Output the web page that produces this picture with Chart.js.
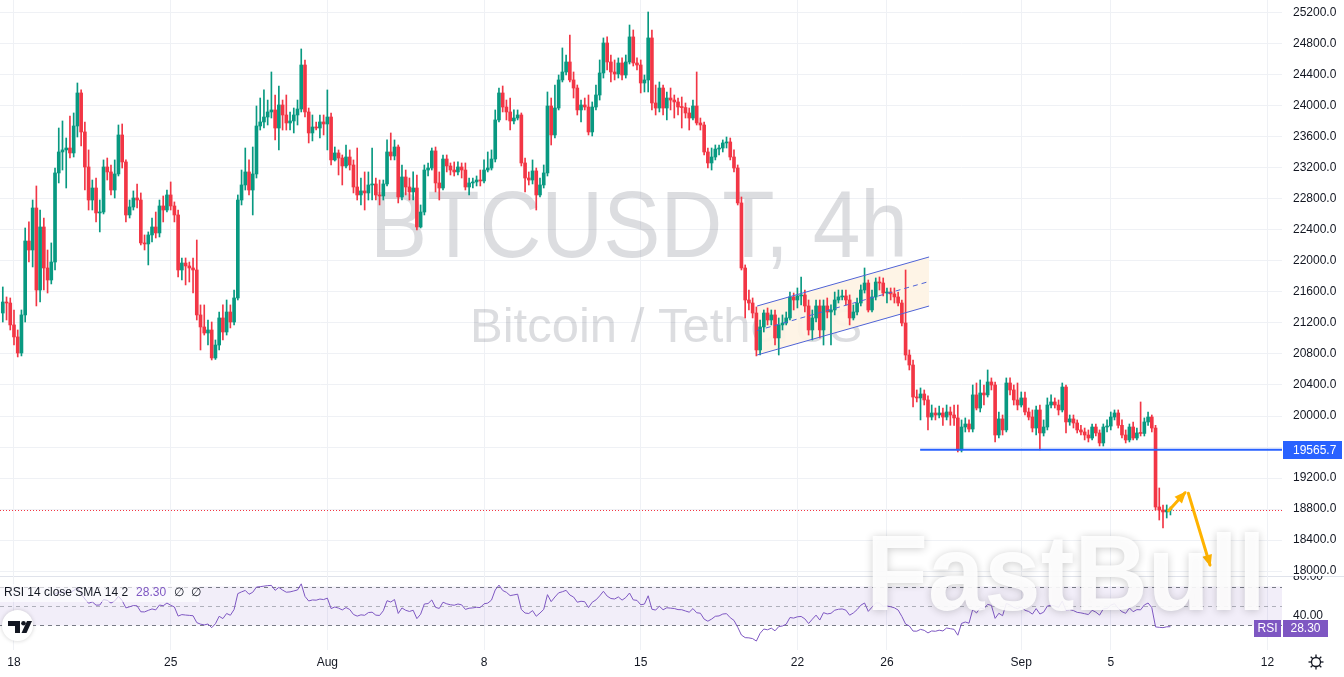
<!DOCTYPE html>
<html><head><meta charset="utf-8">
<script src="https://cdn.jsdelivr.net/npm/chart.js@4.4.1/dist/chart.umd.min.js"></script>
<style>
html,body{margin:0;padding:0;background:#fff;overflow:hidden}
#wrap{position:relative;width:1344px;height:677px;background:#fff}
canvas{position:absolute;left:0}
#c1{top:0}
#c2{top:576px}
</style></head><body>
<div id="wrap"><canvas id="c1" width="1344" height="590"></canvas><canvas id="c2" width="1344" height="101"></canvas></div>
<script>
// BTCUSDT 4h candles; candle i sits at time index FIRST_T + i (4h steps, 0 = Jul 18 00:00)
const FIRST_T = -3;
const open = [
21329,21471,21458,21175,21020,20813,21304,22258,22142,22684,
21626,22439,21910,21755,21987,23136,23407,23433,23458,23394,
23742,24168,23665,23213,22787,22942,22620,22632,23213,23149,
22916,23123,23626,23278,22594,22697,22813,22787,22233,22220,
22336,22439,22362,22710,22658,22852,22710,22594,21884,21974,
21936,21910,21884,21304,21149,21071,21110,20749,20916,21265,
21084,21342,21213,21523,22787,22981,23149,22916,23123,23742,
23794,23858,23923,23949,23716,24013,23884,23781,23807,23884,
23961,24529,23923,23652,23729,23716,23794,23768,23858,23304,
23394,23329,23226,23342,23239,22955,22852,22904,22878,22981,
22994,22852,22839,22994,23407,23355,23471,22826,23084,22955,
22891,22942,22439,22632,23174,23200,23420,23007,22942,23316,
23226,23174,23149,23213,23174,22955,23007,23020,23045,23033,
23174,23200,23316,23820,24168,23987,23923,23807,23845,23884,
23265,23071,23045,23162,22852,22981,23136,24000,23626,23974,
24336,24439,24568,24336,24232,23949,24013,23987,23665,23987,
24142,24426,24813,24568,24439,24413,24555,24400,24568,24891,
24555,24529,24297,24336,24878,24039,23974,24232,23974,24103,
24077,24052,23987,23980,23910,23845,24000,23781,23755,23407,
23265,23342,23445,23458,23523,23536,23342,23200,22749,21910,
21497,21458,21329,20852,21149,21329,21239,21304,21007,21175,
21200,21265,21536,21497,21549,21562,21420,21110,21265,21420,
21110,21420,21342,21368,21497,21536,21549,21497,21265,21342,
21458,21626,21716,21368,21536,21729,21716,21587,21600,21575,
21536,21458,21200,20787,20658,20245,20233,20284,20207,19987,
20039,20013,20039,19987,20052,20013,19975,19562,19858,19897,
19832,20272,20103,20297,20272,20439,20400,19755,19962,19820,
20426,20336,20207,20142,20233,20052,19987,19845,20078,19781,
19858,20142,20181,20142,20078,20374,19923,19962,19910,19820,
19794,19755,19716,19858,19781,19652,19858,19870,19987,20039,
19880,19755,19691,19858,19716,19781,19775,19923,19987,19845,
18826,18787,18762,18787];
const high = [
21665,21536,21523,21368,21110,21368,22426,22504,22787,22968,
22658,22555,22142,22233,23200,23716,23807,23587,23871,23910,
24297,24207,23794,23433,23045,23071,22787,23304,23329,23239,
23304,23755,23768,23304,22787,22904,22994,22878,22336,22375,
22555,22632,22787,22839,22916,23020,22762,22658,22039,22039,
21987,22039,22271,21433,21433,21239,21213,20981,21342,21433,
21497,21433,21626,22852,23174,23458,23304,23471,24000,24103,
24207,24077,24439,24142,24258,24077,24142,23923,23974,24077,
24736,24594,23974,23884,23794,23884,23884,24207,23910,23471,
23433,23368,23497,23433,23304,23458,23071,23149,23149,23458,
23071,23045,23045,23562,23652,23562,23497,23239,23174,23071,
23149,23110,22723,23239,23265,23458,23471,23149,23368,23368,
23265,23278,23278,23265,23265,23071,23071,23097,23174,23304,
23407,23433,23949,24232,24258,24077,24103,23949,23949,23910,
23329,23149,23304,23200,23071,23239,24181,24103,24271,24400,
24749,24658,24916,24439,24271,24077,24103,24142,24052,24271,
24594,24878,24891,24658,24594,24620,24620,24658,25045,24981,
24620,24594,24400,25213,24981,24271,24310,24271,24181,24232,
24142,24103,24116,24039,23974,24077,24439,23845,23794,23458,
23458,23497,23497,23562,23600,23587,23433,23239,22826,21949,
21626,21523,21407,21239,21368,21394,21368,21368,21265,21304,
21342,21600,21587,21652,21794,21626,21497,21368,21497,21497,
21497,21523,21433,21600,21626,21626,21626,21562,21433,21523,
21691,21910,21755,21626,21781,21794,21781,21652,21652,21652,
21600,21497,21884,20852,20723,20336,20362,20336,20259,20142,
20103,20129,20103,20142,20116,20142,20142,19949,19975,19949,
20400,20426,20465,20400,20594,20491,20439,20052,20013,20491,
20491,20400,20426,20310,20310,20103,20078,20129,20142,19949,
20233,20272,20233,20207,20426,20400,20013,20013,19949,19880,
19845,19820,19897,19897,19820,19897,19949,20052,20078,20078,
19949,19820,19897,19923,19845,20181,19975,20052,20013,19880,
19071,18852,18852,18826];
const low = [
21213,21239,21110,20916,20762,20775,21213,21987,21923,21420,
21471,21626,21587,21704,21884,23007,23174,22942,23329,23342,
23600,23484,22916,22658,22658,22504,22375,22607,23045,22852,
22813,23097,23200,22504,22555,22658,22684,22207,22142,21949,
22245,22297,22310,22504,22632,22658,22504,21794,21755,21691,
21729,21587,21239,20852,21045,20916,20723,20730,20852,20981,
21045,21136,21175,21497,22723,22916,22852,22594,23071,23690,
23716,23755,23845,23562,23433,23690,23690,23690,23652,23755,
23923,23858,23523,23549,23690,23587,23626,23433,23239,23290,
23110,22981,23200,23174,22878,22787,22723,22658,22787,22787,
22787,22723,22787,22968,23304,23304,22749,22787,22852,22787,
22787,22400,22426,22594,23097,23174,22891,22787,22916,23149,
23110,23097,23110,23071,22916,22852,22942,22968,22968,23007,
23149,23174,23278,23794,23923,23820,23690,23768,23820,23226,
22891,22981,22994,22658,22826,22942,23097,23497,23587,23949,
24310,24400,24310,24103,23884,23794,23949,23626,23613,23949,
24077,24361,24465,24310,24336,24361,24336,24361,24542,24516,
24465,24168,24181,24181,23949,23884,23923,23884,23820,23949,
23845,23884,23716,23845,23690,23820,23755,23690,23368,23200,
23174,23304,23368,23407,23458,23304,23149,22723,21884,21265,
21368,21265,20775,20787,21084,21175,21175,20916,20787,21110,
21175,21239,21368,21394,21433,21342,21045,20981,21213,21007,
20916,21265,20916,21304,21458,21497,21433,21175,21239,21304,
21420,21587,21342,21342,21497,21626,21549,21458,21497,21458,
21420,21162,20723,20594,20116,20181,19949,20142,19820,19949,
19949,19975,19880,19949,19880,19880,19536,19536,19794,19794,
19794,20078,20052,20142,20245,20336,19665,19716,19755,19794,
20272,20142,20078,20116,20013,19949,19794,19755,19562,19742,
19820,20103,20103,20013,20052,19781,19880,19845,19781,19755,
19691,19665,19691,19742,19613,19613,19794,19820,19949,19845,
19716,19652,19665,19691,19691,19742,19742,19880,19794,18787,
18658,18555,18684,18723];
const close = [
21471,21458,21175,21020,20813,21304,22258,22142,22684,21626,
22439,21910,21755,21987,23136,23407,23433,23458,23394,23742,
24168,23665,23213,22787,22942,22620,22632,23213,23149,22916,
23123,23626,23278,22594,22697,22813,22787,22233,22220,22336,
22439,22362,22710,22658,22852,22710,22594,21884,21974,21936,
21910,21884,21304,21149,21071,21110,20749,20916,21265,21084,
21342,21213,21523,22787,22981,23149,22916,23123,23742,23794,
23858,23923,23949,23716,24013,23884,23781,23807,23884,23961,
24529,23923,23652,23729,23716,23794,23768,23858,23304,23394,
23329,23226,23342,23239,22955,22852,22904,22878,22981,22994,
22852,22839,22994,23407,23355,23471,22826,23084,22955,22891,
22942,22439,22632,23174,23200,23420,23007,22942,23316,23226,
23174,23149,23213,23174,22955,23007,23020,23045,23033,23174,
23200,23316,23820,24168,23987,23923,23807,23845,23884,23265,
23071,23045,23162,22852,22981,23136,24000,23626,23974,24336,
24439,24568,24336,24232,23949,24013,23987,23665,23987,24142,
24426,24813,24568,24439,24413,24555,24400,24568,24891,24555,
24529,24297,24336,24878,24039,23974,24232,23974,24103,24077,
24052,23987,23980,23910,23845,24000,23781,23755,23407,23265,
23342,23445,23458,23523,23536,23342,23200,22749,21910,21497,
21458,21329,20852,21149,21329,21239,21304,21007,21175,21200,
21265,21536,21497,21549,21562,21420,21110,21265,21420,21110,
21420,21342,21368,21497,21536,21549,21497,21265,21342,21458,
21626,21716,21368,21536,21729,21716,21587,21600,21575,21536,
21458,21200,20787,20658,20245,20233,20284,20207,19987,20039,
20013,20039,19987,20052,20013,19975,19562,19858,19897,19832,
20272,20103,20297,20272,20439,20400,19755,19962,19820,20426,
20336,20207,20142,20233,20052,19987,19845,20078,19781,19858,
20142,20181,20142,20078,20374,19923,19962,19910,19820,19794,
19755,19716,19858,19781,19652,19858,19870,19987,20039,19880,
19755,19691,19858,19716,19781,19775,19923,19987,19845,18826,
18787,18762,18787,18790];

// time axis
const tickPos = [0, 42, 84, 126, 168, 210, 234, 270, 294, 336];
const tickLabels = ['18', '25', 'Aug', '8', '15', '22', '26', 'Sep', '5', '12'];
const priceTicks = [18000,18400,18800,19200,19600,20000,20400,20800,21200,21600,22000,22400,22800,23200,23600,24000,24400,24800,25200];
const rsiTicks = [40, 80];
const rsiShown = '28.30';

// drawings (time index, price)
const channelTime = [199.2, 245.3];
const channelUpper = [21419, 22052];
const channelLower = [20787, 21419];
const levelPrice = 19565.7;
const levelStart = 242.9;
const arrowTime = [[309.5, 313.9], [314.8, 320.6]];
const arrowPrice = [[18778, 19010], [19003, 18078]];

// RSI(14) of the close series (indicator definition, Wilder smoothing)
function rsiOf(cl, n) {
  const out = new Array(cl.length).fill(null);
  let ag = 0, al = 0;
  for (let i = 1; i < cl.length; i++) {
    const d = cl[i] - cl[i - 1], g = Math.max(d, 0), l = Math.max(-d, 0);
    if (i <= n) { ag += g; al += l; if (i === n) { ag /= n; al /= n; out[i] = al === 0 ? 100 : 100 - 100 / (1 + ag / al); } }
    else { ag = (ag * (n - 1) + g) / n; al = (al * (n - 1) + l) / n; out[i] = al === 0 ? 100 : 100 - 100 / (1 + ag / al); }
  }
  return out;
}
const rsi = rsiOf(close, 14);

const FONT = '"Liberation Sans", Arial, sans-serif';
Chart.defaults.font.family = FONT;
Chart.defaults.font.size = 12;
Chart.defaults.color = '#131722';
const UP = '#089981', DOWN = '#f23645', GRID = '#eff1f5';
const X_MIN = -3.75, X_MAX = 339.9;
const Y_MAX = 25367.7, Y_MIN = 17935.5;

const colors = close.map((c, i) => c >= open[i] ? UP : DOWN);
const wickData = close.map((c, i) => ({ x: FIRST_T + i, y: [low[i], high[i]] }));
const bodyData = close.map((c, i) => ({ x: FIRST_T + i, y: [open[i], c] }));
const rsiData = rsi.map((v, i) => ({ x: FIRST_T + i, y: v }));

function noPad(s) { s.paddingTop = 0; s.paddingBottom = 0; s.paddingLeft = 0; s.paddingRight = 0; }
function fitText(ctx, txt, size, cx, base, width, weight) {
  ctx.save();
  ctx.font = (weight || '') + ' ' + size + 'px ' + FONT;
  const w = ctx.measureText(txt).width;
  ctx.translate(cx, base);
  ctx.scale(width / w, 1);
  ctx.textAlign = 'center';
  ctx.textBaseline = 'alphabetic';
  ctx.fillText(txt, 0, 0);
  ctx.restore();
}
function drawFastBull(ctx, dy) {
  ctx.save();
  ctx.shadowColor = 'rgba(0,0,0,0.22)';
  ctx.shadowBlur = 9;
  ctx.shadowOffsetY = 1;
  ctx.fillStyle = 'rgba(255,255,255,0.9)';
  fitText(ctx, 'FastBull', 108, 1066, 610 - dy, 400, 'bold');
  ctx.restore();
}
function arrow(ctx, x1, y1, x2, y2) {
  ctx.beginPath(); ctx.moveTo(x1, y1); ctx.lineTo(x2, y2); ctx.stroke();
  const a = Math.atan2(y2 - y1, x2 - x1), L = 10, W = 5;
  ctx.beginPath();
  ctx.moveTo(x2 + 2 * Math.cos(a), y2 + 2 * Math.sin(a));
  ctx.lineTo(x2 - L * Math.cos(a) + W * Math.sin(a), y2 - L * Math.sin(a) - W * Math.cos(a));
  ctx.lineTo(x2 - L * Math.cos(a) - W * Math.sin(a), y2 - L * Math.sin(a) + W * Math.cos(a));
  ctx.closePath(); ctx.fill();
}

const overlayA = {
  id: 'overlayA',
  beforeDatasetsDraw(chart) {
    const { ctx, chartArea: ca, scales: { x, y } } = chart;
    ctx.save();
    ctx.beginPath(); ctx.rect(ca.left, ca.top, ca.right - ca.left, ca.bottom - ca.top); ctx.clip();
    ctx.fillStyle = 'rgba(120,123,134,0.26)';
    fitText(ctx, 'BTCUSDT, 4h', 94, 639, 257, 538);
    ctx.font = '49px ' + FONT; ctx.textAlign = 'left'; ctx.textBaseline = 'alphabetic';
    ctx.fillText('Bitcoin / TetherUS', 470, 342);
    const x1 = x.getPixelForValue(channelTime[0]), x2 = x.getPixelForValue(channelTime[1]);
    ctx.fillStyle = 'rgba(254,243,228,0.94)';
    ctx.beginPath();
    ctx.moveTo(x1, y.getPixelForValue(channelUpper[0]));
    ctx.lineTo(x2, y.getPixelForValue(channelUpper[1]));
    ctx.lineTo(x2, y.getPixelForValue(channelLower[1]));
    ctx.lineTo(x1, y.getPixelForValue(channelLower[0]));
    ctx.closePath(); ctx.fill();
    ctx.restore();
  },
  afterDatasetsDraw(chart) {
    const { ctx, chartArea: ca, scales: { x, y } } = chart;
    ctx.save();
    ctx.beginPath(); ctx.rect(ca.left, ca.top, ca.right - ca.left, ca.bottom - ca.top); ctx.clip();
    const x1 = x.getPixelForValue(channelTime[0]), x2 = x.getPixelForValue(channelTime[1]);
    ctx.strokeStyle = '#4f63d6'; ctx.lineWidth = 1;
    [channelUpper, channelLower].forEach(ch => {
      ctx.beginPath(); ctx.moveTo(x1, y.getPixelForValue(ch[0])); ctx.lineTo(x2, y.getPixelForValue(ch[1])); ctx.stroke();
    });
    ctx.setLineDash([5, 4]);
    ctx.beginPath();
    ctx.moveTo(x1, y.getPixelForValue((channelUpper[0] + channelLower[0]) / 2));
    ctx.lineTo(x2, y.getPixelForValue((channelUpper[1] + channelLower[1]) / 2));
    ctx.stroke();
    ctx.setLineDash([]);
    const yc = Math.round(y.getPixelForValue(close[close.length - 1])) + 0.5;
    ctx.strokeStyle = DOWN; ctx.setLineDash([1, 2]);
    ctx.beginPath(); ctx.moveTo(ca.left, yc); ctx.lineTo(ca.right, yc); ctx.stroke();
    ctx.setLineDash([]);
    const yl = y.getPixelForValue(levelPrice);
    ctx.strokeStyle = '#2962ff'; ctx.lineWidth = 2;
    ctx.beginPath(); ctx.moveTo(x.getPixelForValue(levelStart), yl); ctx.lineTo(ca.right, yl); ctx.stroke();
    ctx.strokeStyle = '#ffb300'; ctx.fillStyle = '#ffb300'; ctx.lineWidth = 3; ctx.lineCap = 'round';
    arrowTime.forEach((tt, i) => {
      arrow(ctx, x.getPixelForValue(tt[0]), y.getPixelForValue(arrowPrice[i][0]), x.getPixelForValue(tt[1]), y.getPixelForValue(arrowPrice[i][1]));
    });
    ctx.restore();
    ctx.save();
    ctx.fillStyle = '#2962ff';
    ctx.fillRect(ca.right + 1, Math.round(yl) - 9, 59, 18);
    ctx.fillStyle = '#fff'; ctx.font = '12px ' + FONT; ctx.textAlign = 'left'; ctx.textBaseline = 'middle';
    ctx.fillText(levelPrice.toFixed(1), ca.right + 11, Math.round(yl) + 0.5);
    ctx.restore();
  },
  afterDraw(chart) {
    const ctx = chart.ctx;
    ctx.save();
    ctx.beginPath(); ctx.rect(0, 0, 1344, 576); ctx.clip();
    drawFastBull(ctx, 0);
    ctx.restore();
  }
};

new Chart(document.getElementById('c1'), {
  type: 'bar',
  data: { datasets: [
    { data: wickData, backgroundColor: colors, barThickness: 1, grouped: false, order: 2 },
    { data: bodyData, backgroundColor: colors, barThickness: 3, grouped: false, minBarLength: 1, order: 1 }
  ] },
  options: {
    responsive: false, animation: false, devicePixelRatio: 1,
    layout: { autoPadding: false, padding: { left: 0, right: 0, top: 0, bottom: 14 } },
    plugins: { legend: { display: false }, tooltip: { enabled: false } },
    scales: {
      x: { type: 'linear', min: X_MIN, max: X_MAX, offset: false,
        afterBuildTicks: s => { s.ticks = tickPos.map(v => ({ value: v })); },
        ticks: { display: false }, grid: { color: GRID, drawTicks: false, offset: false }, border: { display: false },
        afterFit: s => { s.height = 0; noPad(s); } },
      y: { position: 'right', min: Y_MIN, max: Y_MAX,
        afterBuildTicks: s => { s.ticks = priceTicks.map(v => ({ value: v })); },
        ticks: { callback: v => Number(v).toFixed(1), padding: 11, color: '#131722', font: { size: 12 } },
        grid: { color: GRID, drawTicks: false }, border: { display: false },
        afterFit: s => { s.width = 62; noPad(s); } }
    }
  },
  plugins: [overlayA]
});

const overlayB = {
  id: 'overlayB',
  beforeDraw(chart) {
    const ctx = chart.ctx;
    ctx.save(); ctx.strokeStyle = '#e0e3eb'; ctx.lineWidth = 1;
    ctx.beginPath(); ctx.moveTo(0, 0.5); ctx.lineTo(1344, 0.5); ctx.stroke(); ctx.restore();
  },
  beforeDatasetsDraw(chart) {
    const { ctx, chartArea: ca, scales: { y } } = chart;
    const y70 = y.getPixelForValue(70), y50 = y.getPixelForValue(50), y30 = y.getPixelForValue(30);
    ctx.save();
    ctx.fillStyle = 'rgba(126,87,194,0.1)';
    ctx.fillRect(ca.left, y70, ca.right - ca.left, y30 - y70);
    ctx.lineWidth = 1; ctx.setLineDash([4, 4]);
    [[y70, '#787b86'], [y50, 'rgba(120,123,134,0.55)'], [y30, '#787b86']].forEach(([yy, c]) => {
      ctx.strokeStyle = c; ctx.beginPath();
      ctx.moveTo(ca.left, Math.round(yy) + 0.5); ctx.lineTo(ca.right, Math.round(yy) + 0.5); ctx.stroke();
    });
    ctx.restore();
  },
  afterDraw(chart) {
    const { ctx } = chart;
    ctx.save();
    ctx.font = '12px ' + FONT; ctx.textBaseline = 'middle'; ctx.textAlign = 'left';
    ctx.fillStyle = 'rgba(255,255,255,0.65)'; ctx.fillRect(0, 8, 199, 18);
    const title = 'RSI 14 close SMA 14 2';
    ctx.fillStyle = '#131722'; ctx.fillText(title, 4, 17);
    let xx = 4 + ctx.measureText(title).width + 8;
    ctx.fillStyle = '#7e57c2'; ctx.fillText(rsiShown, xx, 17);
    xx += ctx.measureText(rsiShown).width + 8;
    ctx.fillStyle = '#131722'; ctx.fillText('\u2205  \u2205', xx, 17);
    ctx.fillStyle = '#7e57c2';
    ctx.fillRect(1254, 44, 27, 17); ctx.fillRect(1283, 44, 45, 17);
    ctx.fillStyle = '#fff'; ctx.textAlign = 'center';
    ctx.fillText('RSI', 1267.5, 53); ctx.fillText(rsiShown, 1305.5, 53);
    ctx.save(); ctx.shadowColor = 'rgba(0,0,0,0.18)'; ctx.shadowBlur = 4;
    ctx.fillStyle = '#fff'; ctx.beginPath(); ctx.arc(17.5, 49.5, 15.5, 0, Math.PI * 2); ctx.fill(); ctx.restore();
    ctx.fillStyle = '#131722';
    ctx.fillRect(8, 45, 12, 5); ctx.fillRect(15, 45, 5, 12);
    ctx.beginPath(); ctx.arc(23.5, 47.2, 2.3, 0, Math.PI * 2); ctx.fill();
    ctx.beginPath(); ctx.moveTo(27, 45); ctx.lineTo(32, 45); ctx.lineTo(26.5, 57); ctx.lineTo(21.5, 57); ctx.closePath(); ctx.fill();
    ctx.strokeStyle = '#131722'; ctx.lineWidth = 1.3;
    ctx.beginPath(); ctx.arc(1316, 86, 4.5, 0, Math.PI * 2); ctx.stroke();
    for (let k = 0; k < 8; k++) {
      const a = k * Math.PI / 4;
      ctx.beginPath(); ctx.moveTo(1316 + 4.5 * Math.cos(a), 86 + 4.5 * Math.sin(a));
      ctx.lineTo(1316 + 7.5 * Math.cos(a), 86 + 7.5 * Math.sin(a)); ctx.stroke();
    }
    ctx.restore();
    drawFastBull(ctx, 576);
  }
};

new Chart(document.getElementById('c2'), {
  type: 'line',
  data: { datasets: [{ data: rsiData, borderColor: '#7e57c2', borderWidth: 1, pointRadius: 0, tension: 0, spanGaps: false }] },
  options: {
    responsive: false, animation: false, devicePixelRatio: 1,
    layout: { autoPadding: false, padding: 0 },
    plugins: { legend: { display: false }, tooltip: { enabled: false } },
    scales: {
      x: { type: 'linear', min: X_MIN, max: X_MAX, offset: false,
        afterBuildTicks: s => { s.ticks = tickPos.map(v => ({ value: v })); },
        ticks: { autoSkip: false, maxRotation: 0, minRotation: 0, padding: 5, color: '#131722', font: { size: 12 },
          callback: v => { const i = tickPos.indexOf(v); return i >= 0 ? tickLabels[i] : ''; } },
        grid: { color: GRID, drawTicks: false, offset: false }, border: { display: false },
        afterFit: s => { s.height = 27; noPad(s); } },
      y: { position: 'right', min: 4.87, max: 80.77,
        afterBuildTicks: s => { s.ticks = rsiTicks.map(v => ({ value: v })); },
        ticks: { callback: v => Number(v).toFixed(2), padding: 11, color: '#131722', font: { size: 12 } },
        grid: { display: false, drawTicks: false }, border: { display: false },
        afterFit: s => { s.width = 62; noPad(s); } }
    }
  },
  plugins: [overlayB]
});
</script>
</body></html>
